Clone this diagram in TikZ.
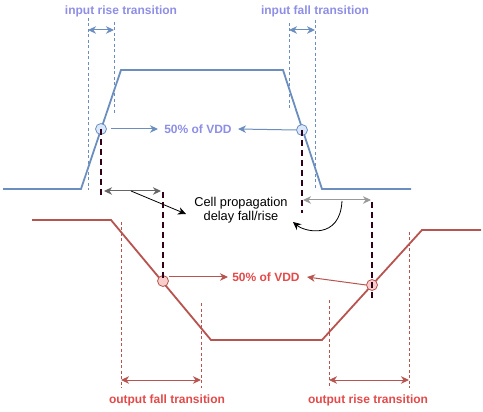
\documentclass[tikz,border=0pt]{standalone}
\usepackage{fontspec}
\setmainfont{Liberation Sans}
\usetikzlibrary{arrows.meta}
\definecolor{inblue}{HTML}{6C8EBF}
\definecolor{infill}{HTML}{DAE8FC}
\definecolor{outred}{HTML}{B85450}
\definecolor{outfill}{HTML}{F8CECC}
\definecolor{bluetxt}{HTML}{8E8EE6}
\definecolor{redtxt}{HTML}{E34A4A}
\definecolor{maroon}{HTML}{33001A}
\tikzset{
  wave/.style={line width=1.8pt, line join=miter},
  guide/.style={line width=0.6pt, dash pattern=on 3pt off 2.5pt},
  delayline/.style={maroon, line width=2pt, dash pattern=on 6pt off 4pt},
  tip/.style={-{Stealth[length=8pt,width=7.5pt,inset=2.5pt]}},
  dtip/.style={{Stealth[length=8pt,width=7.5pt,inset=2.5pt]}-{Stealth[length=8pt,width=7.5pt,inset=2.5pt]}},
  dot/.style={circle, minimum size=11pt, inner sep=0pt, line width=0.8pt},
  lbl/.style={font=\fontsize{12}{14}\selectfont\bfseries, inner sep=1pt},
  plain/.style={font=\fontsize{12.8}{14.5}\selectfont, align=center, inner sep=1pt}
}
\begin{document}
\begin{tikzpicture}[x=1pt,y=-1pt]
\useasboundingbox (0,0) rectangle (483,412);
% input waveform
\coordinate (i0) at (3,189);
\coordinate (i1) at (81,189);
\coordinate (i2) at (121,70);
\coordinate (i3) at (283,70);
\coordinate (i4) at (322,189);
\coordinate (i5) at (411,189);
\draw[wave, inblue] (i0) -- (i1) -- (i2) -- (i3) -- (i4) -- (i5);
% output waveform
\coordinate (o0) at (32,220);
\coordinate (o1) at (111,220);
\coordinate (o2) at (211,340);
\coordinate (o3) at (322,340);
\coordinate (o4) at (422,230);
\coordinate (o5) at (481,230);
\draw[wave, outred] (o0) -- (o1) -- (o2) -- (o3) -- (o4) -- (o5);
% input guides
\coordinate (g1t) at (88,18);  \coordinate (g1b) at (88,190);
\coordinate (g2t) at (114,22); \coordinate (g2b) at (114,115);
\coordinate (g3t) at (289,23); \coordinate (g3b) at (289,110);
\coordinate (g4t) at (315,20); \coordinate (g4b) at (315,188);
\foreach \a in {1,2,3,4} \draw[guide, inblue] (g\a t) -- (g\a b);
\coordinate (a1l) at (88,30);  \coordinate (a1r) at (114,30);
\coordinate (a2l) at (289,30); \coordinate (a2r) at (315,30);
\draw[dtip, inblue, line width=1pt] (a1l) -- (a1r);
\draw[dtip, inblue, line width=1pt] (a2l) -- (a2r);
\node[lbl, bluetxt] (lir) at (121,11) {input rise transition};
\node[lbl, bluetxt] (lif) at (315,11) {input fall transition};
% output guides
\coordinate (h1t) at (121,222); \coordinate (h1b) at (121,388);
\coordinate (h2t) at (201,303); \coordinate (h2b) at (201,388);
\coordinate (h3t) at (329,300); \coordinate (h3b) at (329,388);
\coordinate (h4t) at (409,232); \coordinate (h4b) at (409,388);
\foreach \a in {1,2,3,4} \draw[guide, outred] (h\a t) -- (h\a b);
\coordinate (b1l) at (121,380); \coordinate (b1r) at (201,380);
\coordinate (b2l) at (329,380); \coordinate (b2r) at (409,380);
\draw[dtip, outred, line width=1pt] (b1l) -- (b1r);
\draw[dtip, outred, line width=1pt] (b2l) -- (b2r);
\node[lbl, redtxt] (lof) at (167,400) {output fall transition};
\node[lbl, redtxt] (lor) at (368,400) {output rise transition};
% 50% points
\node[dot, draw=inblue, fill=infill] (c1) at (101,129) {};
\node[dot, draw=inblue, fill=infill] (c2) at (302,130) {};
\node[dot, draw=outred, fill=outfill] (c3) at (163,281) {};
\node[dot, draw=outred, fill=outfill] (c4) at (372,285) {};
\node[lbl, bluetxt] (vin) at (198,129) {50\% of VDD};
\node[lbl, redtxt] (vout) at (266,277) {50\% of VDD};
\coordinate (vinl) at (158,129);
\coordinate (vinr) at (238,129);
\draw[tip, inblue, line width=1pt] (c1.east) ++(4,0) coordinate (c1e) (c1e) -- (vinl);
\draw[tip, inblue, line width=1pt] (c2.west) -- (vinr);
\coordinate (voutl) at (228,277);
\coordinate (voutr) at (307,277);
\draw[tip, outred, line width=1pt] (c3.east) ++(0,-4) coordinate (c3e) (c3e) -- (voutl);
\draw[tip, outred, line width=1pt] (c4.west) -- (voutr);
% delay lines
\coordinate (d1b) at (101,198);
\coordinate (d2t) at (163,192);
\coordinate (d3b) at (302,213);
\coordinate (d4t) at (372,202);
\coordinate (d4b) at (372,299);
\draw[delayline] (c1.center) -- (d1b);
\draw[delayline] (d2t) -- (c3.center);
\draw[delayline] (c2.center) -- (d3b);
\draw[delayline] (d4t) -- (d4b);
% delay arrows
\coordinate (e1l) at (104,191); \coordinate (e1r) at (161,191);
\coordinate (e2l) at (303,200); \coordinate (e2r) at (371,200);
\draw[dtip, black!60, line width=1pt] (e1l) -- (e1r);
\draw[dtip, black!40, line width=1pt] (e2l) -- (e2r);
\node[plain] (cpd) at (241,210) {Cell propagation\\delay fall/rise};
\coordinate (k1) at (131,191);
\coordinate (k2) at (186,214);
\draw[tip, black, line width=0.8pt] (k1) -- (k2);
\coordinate (m1) at (342,201);
\coordinate (m2) at (293,222);
\draw[tip, black, line width=0.8pt] (m1) .. controls (340,240) and (305,232) .. (m2);
\end{tikzpicture}
\end{document}
